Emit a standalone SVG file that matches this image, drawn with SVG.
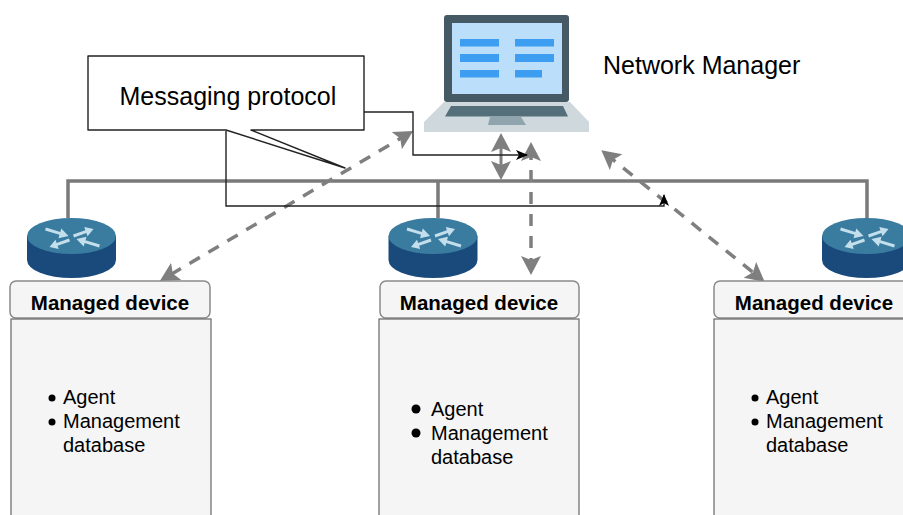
<svg xmlns="http://www.w3.org/2000/svg" width="903" height="515" viewBox="0 0 903 515">
<style>
text{font-family:"Liberation Sans",Arial,sans-serif;fill:#000}
.bus{fill:none;stroke:#7a7a7a;stroke-width:3.500}
.dash{fill:none;stroke:#7f7f7f;stroke-width:3.500;stroke-dasharray:12 10}
.solid{fill:none;stroke:#7f7f7f;stroke-width:3}
.thin{fill:none;stroke:#222;stroke-width:1.400}
.hd{fill:#f5f5f5;stroke:#8a8a8a;stroke-width:1.500}
.bd{fill:#f5f5f5;stroke:#666;stroke-width:1.200}
.title{font-size:20.500px;font-weight:bold;text-anchor:middle}
.item{font-size:20px}
.bar{fill:#3d9df0}
</style>
<defs>
<marker id="g" viewBox="0 0 20 22" refX="13" refY="11" markerWidth="20" markerHeight="22" markerUnits="userSpaceOnUse" orient="auto-start-reverse"><path d="M0,1L19,11L0,21L4,11Z" fill="#7f7f7f"/></marker>
<marker id="k" viewBox="0 0 12 12" refX="11" refY="6" markerWidth="12" markerHeight="12" markerUnits="userSpaceOnUse" orient="auto"><path d="M0,1L12,6L0,11L3,6Z" fill="#000"/></marker>
<g id="router">
<path d="M-44.500,0V24A44.500,18 0 0 0 44.500,24V0Z" fill="#1a4a7c"/>
<ellipse cx="0" cy="0" rx="44.500" ry="18" fill="#3a7ba0"/>
<g fill="#c4dfec">
<path d="M-25.600,-8.400L-11.200,-4L-10.200,-7.400L-3,0L-13,2.200L-12,-1.200L-26.400,-5.600Z"/>
<path d="M1.500,-1.400L13.900,-5.800L12.800,-9.100L22,-7L16,.3L14.900,-3L2.500,1.400Z"/>
<path d="M1.500,-1.400L13.900,-5.800L12.800,-9.100L22,-7L16,.3L14.900,-3L2.500,1.400Z" transform="translate(0,4) rotate(180)"/>
<path d="M-25.600,-8.400L-11.200,-4L-10.200,-7.400L-3,0L-13,2.200L-12,-1.200L-26.400,-5.600Z" transform="translate(2,3) rotate(180)"/>
</g>
</g>
</defs>
<rect width="903" height="515" fill="#fff"/>
<g id="connectors">
<path class="bus" d="M68,218V181H867V218M438,181V218"/>
<path class="solid" d="M501,174V139" marker-start="url(#g)" marker-end="url(#g)"/>
<path class="dash" d="M408,134L165,278" marker-start="url(#g)" marker-end="url(#g)"/>
<path class="dash" d="M531,148V269" marker-start="url(#g)" marker-end="url(#g)"/>
<path class="dash" d="M606,154L760,278" marker-start="url(#g)" marker-end="url(#g)"/>
<path class="thin" d="M363,112H413V155H527" marker-end="url(#k)"/>
<path class="thin" d="M226,131V206H664V195" marker-end="url(#k)"/>
</g>
<g id="callout">
<path d="M88,56H364V130H251L345,168L226,130H88Z" fill="#fff" stroke="#222" stroke-width="1.400" stroke-linejoin="round"/>
<text x="119.500" y="105" font-size="25">Messaging protocol</text>
</g>
<g id="network-manager">
<path d="M444,102H570L589,122V132H424V122Z" fill="#cfd8dc"/>
<rect x="444" y="15" width="125" height="87" rx="3" fill="#455a64"/>
<rect x="452" y="23" width="110" height="71" fill="#bbdefb"/>
<rect class="bar" x="460" y="39" width="39" height="7.500"/>
<rect class="bar" x="515" y="39" width="39" height="7.500"/>
<rect class="bar" x="460" y="54" width="39" height="8"/>
<rect class="bar" x="515" y="54" width="39" height="8"/>
<rect class="bar" x="460" y="70" width="39" height="7.500"/>
<rect class="bar" x="515" y="70" width="27" height="7.500"/>
<path d="M451,106H563L568,116.500H445Z" fill="#546e7a"/>
<path d="M490,117H521L526,125H488Z" fill="#90a4ae"/>
<text x="603" y="74" font-size="25">Network Manager</text>
</g>
<g id="router-1"><use href="#router" x="71.500" y="236"/></g>
<g id="router-2"><use href="#router" x="433" y="236"/></g>
<g id="router-3"><use href="#router" x="866.500" y="236"/></g>
<g id="device-1">
<rect class="hd" x="10" y="281" width="200" height="37" rx="6"/>
<text class="title" x="110" y="310">Managed device</text>
<rect class="bd" x="11" y="319" width="200" height="210"/>
<circle cx="52" cy="398" r="3.500"/>
<circle cx="52" cy="422" r="3.500"/>
<text class="item" x="63" y="404">Agent</text>
<text class="item" x="63" y="428">Management</text>
<text class="item" x="63" y="452">database</text>
</g>
<g id="device-2">
<rect class="hd" x="380" y="281" width="199" height="37" rx="6"/>
<text class="title" x="479" y="310">Managed device</text>
<rect class="bd" x="379" y="319" width="200" height="210"/>
<circle cx="416" cy="409" r="4.500"/>
<circle cx="416" cy="433" r="4.500"/>
<text class="item" x="431" y="416">Agent</text>
<text class="item" x="431" y="440">Management</text>
<text class="item" x="431" y="464">database</text>
</g>
<g id="device-3">
<rect class="hd" x="714" y="281" width="200" height="37" rx="6"/>
<text class="title" x="814" y="310">Managed device</text>
<rect class="bd" x="714" y="319" width="200" height="210"/>
<circle cx="755" cy="398" r="3.500"/>
<circle cx="755" cy="422" r="3.500"/>
<text class="item" x="766" y="404">Agent</text>
<text class="item" x="766" y="428">Management</text>
<text class="item" x="766" y="452">database</text>
</g>
</svg>
